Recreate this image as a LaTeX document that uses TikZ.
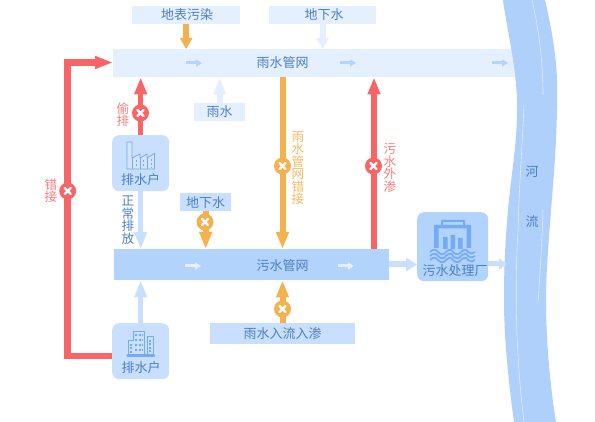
\documentclass[tikz,border=0pt]{standalone}
\usepackage{fontspec}
\setmainfont{Noto Sans CJK SC}
\usetikzlibrary{arrows.meta}
\definecolor{txtblue}{HTML}{4B7FC2}
\definecolor{pale}{HTML}{E4F0FD}
\definecolor{mid}{HTML}{C8DFFD}
\definecolor{deep}{HTML}{B2D3FC}
\definecolor{riv}{HTML}{AED0FB}
\definecolor{flow}{HTML}{B5D4FB}
\definecolor{icon}{HTML}{74ABF4}
\definecolor{redc}{HTML}{F96566}
\definecolor{orc}{HTML}{F6B14F}
\tikzset{
  block/.style={inner sep=0pt,text=txtblue,font=\fontsize{13pt}{14pt}\selectfont,
    anchor=north west},
  lab/.style={inner sep=0pt,font=\fontsize{12.6pt}{12.5pt}\selectfont,align=center},
  fat/.style={line width=#1,-{Triangle[length=17pt,width=12pt]}},
  fat/.default=5.5pt,
  stub/.style={line width=6pt,-{Triangle[length=11pt,width=12pt]}},
  small/.style={line width=3pt,flow,-{Triangle[length=6pt,width=7pt]}},
  badx/.style={circle,fill=#1,minimum size=17pt,inner sep=0pt,
    path picture={\draw[white,line width=2.4pt,line cap=round] (-3,-3)--(3,3) (-3,3)--(3,-3);}},
  thinic/.style={draw=icon,line width=0.8pt,line join=round},
}
\begin{document}
\begin{tikzpicture}[x=1pt,y=-1pt]
\useasboundingbox (0,0) rectangle (595,422);
% pipes
\node[block,fill=pale,minimum width=407pt,minimum height=28pt] (rain) at (113,49) {};
\node[block,fill=deep,minimum width=275pt,minimum height=31pt] (sewer) at (114,249) {};
% river
\fill[riv] (503,0) .. controls (507,30) and (516,65) .. (517,100)
  .. controls (518,140) and (511,175) .. (508,210)
  .. controls (505,245) and (504,270) .. (504,300)
  .. controls (504,340) and (509,385) .. (514,422)
  -- (556,422) .. controls (550,385) and (546,340) .. (546,300)
  .. controls (546,270) and (549,240) .. (551,210)
  .. controls (554,175) and (558,125) .. (557,80)
  .. controls (556,50) and (550,22) .. (545,0) -- cycle;
\draw[white,opacity=.6,line width=.6pt] (532,0) .. controls (538,25) and (543,60) .. (543,95);
\draw[white,opacity=.6,line width=.6pt] (543,210) .. controls (542,240) and (540,275) .. (538,303);
\draw[white,opacity=.6,line width=.6pt] (524,105) .. controls (522,150) and (519,190) .. (518,230)
  .. controls (515,280) and (515,350) .. (524,422);
% boxes
\node[block,fill=pale,minimum width=108pt,minimum height=18pt] (surf) at (132,6) {};
\node[block,fill=pale,minimum width=107pt,minimum height=18pt] (gw1) at (269,6) {};
\node[block,fill=pale,minimum width=51pt,minimum height=18pt] (rw) at (194,103) {};
\node[block,fill=mid,minimum width=51pt,minimum height=18pt] (gw2) at (180,193) {};
\node[block,fill=mid,minimum width=145pt,minimum height=21pt] (inflow) at (210,323) {};
\node[block,fill=mid,rounded corners=7pt,minimum width=57pt,minimum height=56pt] (hh1) at (112,135) {};
\node[block,fill=mid,rounded corners=7pt,minimum width=57pt,minimum height=56pt] (hh2) at (112,323) {};
\node[block,fill=deep,rounded corners=7pt,minimum width=71pt,minimum height=69pt] (plant) at (417,212) {};
% connectors
\coordinate (rivin) at (507,264);
\coordinate (errup) at (67.7,62.5);
\coordinate (errlow) at (67.7,356);
\draw[redc,line width=6.5pt,-{Triangle[length=18pt,width=12pt]}] (hh2.west |- errlow) -- (errlow) -- (errup) -- (errup -| rain.west);
\draw[redc,fat] (hh1.north) -- (hh1.north |- rain.south);
\draw[orc,stub] (surf.south) -- (surf.south |- rain.north);
\draw[pale,stub] (gw1.south) -- (gw1.south |- rain.north);
\draw[pale,fat=6pt] (rw.north) -- (rw.north |- rain.south);
\coordinate (cx) at (282.5,100);
\coordinate (rx) at (374,100);
\draw[orc,fat=6pt] (cx |- rain.south) -- (cx |- sewer.north);
\draw[redc,fat=6pt] (rx |- sewer.north) -- (rx |- rain.south);
\draw[mid,fat] (hh1.south) -- (hh1.south |- sewer.north);
\draw[mid,fat] (hh2.north) -- (hh2.north |- sewer.south);
\draw[orc,fat=6pt] (gw2.south) -- (gw2.south |- sewer.north);
\draw[orc,fat=6pt] (cx |- inflow.north) -- (cx |- sewer.south);
\draw[mid,line width=6pt,-{Triangle[length=11pt,width=13pt]}] (sewer.east |- 0,264.5) -- (plant.west |- 0,264.5);
\draw[mid,line width=5pt,-{Triangle[length=8pt,width=11pt]}] (plant.east |- rivin) -- (rivin);
% flow marks
\draw[small] (186,63) -- (202,63);
\draw[small] (340,63) -- (356,63);
\draw[small] (492,63) -- (508,63);
\draw[small,pale] (185,266) -- (201,266);
\draw[small,pale] (338,266) -- (354,266);
% crosses
\node[badx=redc] (x1) at (67.7,191) {};
\node[badx=redc] (x2) at (140.5,113) {};
\node[badx=redc] (x3) at (373.5,166) {};
\node[badx=orc] (x4) at (282.5,166) {};
\node[badx=orc] (x5) at (205,222) {};
\node[badx=orc] (x6) at (282.5,309) {};
% labels
\node[block,anchor=center] (t1) at (187,15) {地表污染};
\node[block,anchor=center] (t2) at (324,15) {地下水};
\node[block,anchor=center] (t3) at (282.5,63) {雨水管网};
\node[block,anchor=center] (t4) at (219.5,112) {雨水};
\node[block,anchor=center] (t5) at (205.5,202.5) {地下水};
\node[block,anchor=center] (t6) at (282.5,266) {污水管网};
\node[block,anchor=center] (t7) at (282.5,334) {雨水入流入渗};
\node[block,anchor=center] (t8) at (140.5,180) {排水户};
\node[block,anchor=center] (t9) at (141,368) {排水户};
\node[block,anchor=center,font=\fontsize{13pt}{14pt}\selectfont] (t10) at (455,271) {污水处理厂};
\node[block,anchor=center] (t11) at (532,172) {河};
\node[block,anchor=center] (t12) at (532,222) {流};
\node[lab,text=txtblue] (t13) at (128,220) {正\\常\\排\\放};
\node[lab,text=redc!85!white] (t14) at (123,114.5) {偷\\排};
\node[lab,text=redc!85!white] (t15) at (51,190.5) {错\\接};
\node[lab,text=redc!85!white] (t16) at (390,168) {污\\水\\外\\渗};
\node[lab,text=orc!90!white] (t17) at (298,168) {雨\\水\\管\\网\\错\\接};
% factory icon
\draw[thinic,fill=mid!80!white] (127,169) -- (127,142) -- (132,142) -- (132,158) -- (140,154) -- (140,158) -- (147,154) -- (147,158) -- (154.5,153.5) -- (154.5,169) -- cycle;
\draw[thinic] (132,158) -- (132,169) (140,158) -- (140,169) (147,158) -- (147,169);
\draw[thinic,line width=1pt,dash pattern=on 2pt off 2pt] (136,160) -- (136,168) (143.5,160) -- (143.5,168) (151,159) -- (151,168);
% building icon
\draw[thinic,fill=deep!70!white] (128.5,356) -- (128.5,340) -- (133,340) -- (133,331) -- (144.5,331) -- (144.5,356);
\draw[thinic,fill=deep!70!white] (147.5,356) -- (147.5,336) -- (153,336) -- (153,356);
\draw[thinic,dash pattern=on 2pt off 1.5pt,line width=1.3pt] (135,335) -- (143,335) (135,340) -- (143,340) (135,345) -- (143,345) (135,350) -- (143,350) (131,344) -- (131,354) (150,340) -- (150,352);
\draw[icon,line width=2.4pt,line cap=round] (127.5,355.5) -- (154,355.5);
% plant icon
\fill[icon] (441,220) rectangle (465,222) (441,220) rectangle (443,225) (463,220) rectangle (465,225);
\fill[icon] (434,225) rectangle (471,228.5) (434,225) rectangle (438.5,248) (466.5,225) rectangle (471,248);
\fill[icon] (443,237) rectangle (447.5,249) (450.5,235) rectangle (455,249) (458,238) rectangle (462.5,249);
\foreach \yy in {252,256,260}{
  \draw[icon,line width=1.7pt] (430,\yy) .. controls (433,\yy-3) and (436,\yy-3) .. (438,\yy) .. controls (441,\yy+3) and (444,\yy+3) .. (446,\yy)
    .. controls (449,\yy-3) and (452,\yy-3) .. (453,\yy) .. controls (456,\yy+3) and (459,\yy+3) .. (461,\yy)
    .. controls (464,\yy-3) and (467,\yy-3) .. (468,\yy) .. controls (470,\yy+2) and (473,\yy+2) .. (475,\yy);
}
\end{tikzpicture}
\end{document}
